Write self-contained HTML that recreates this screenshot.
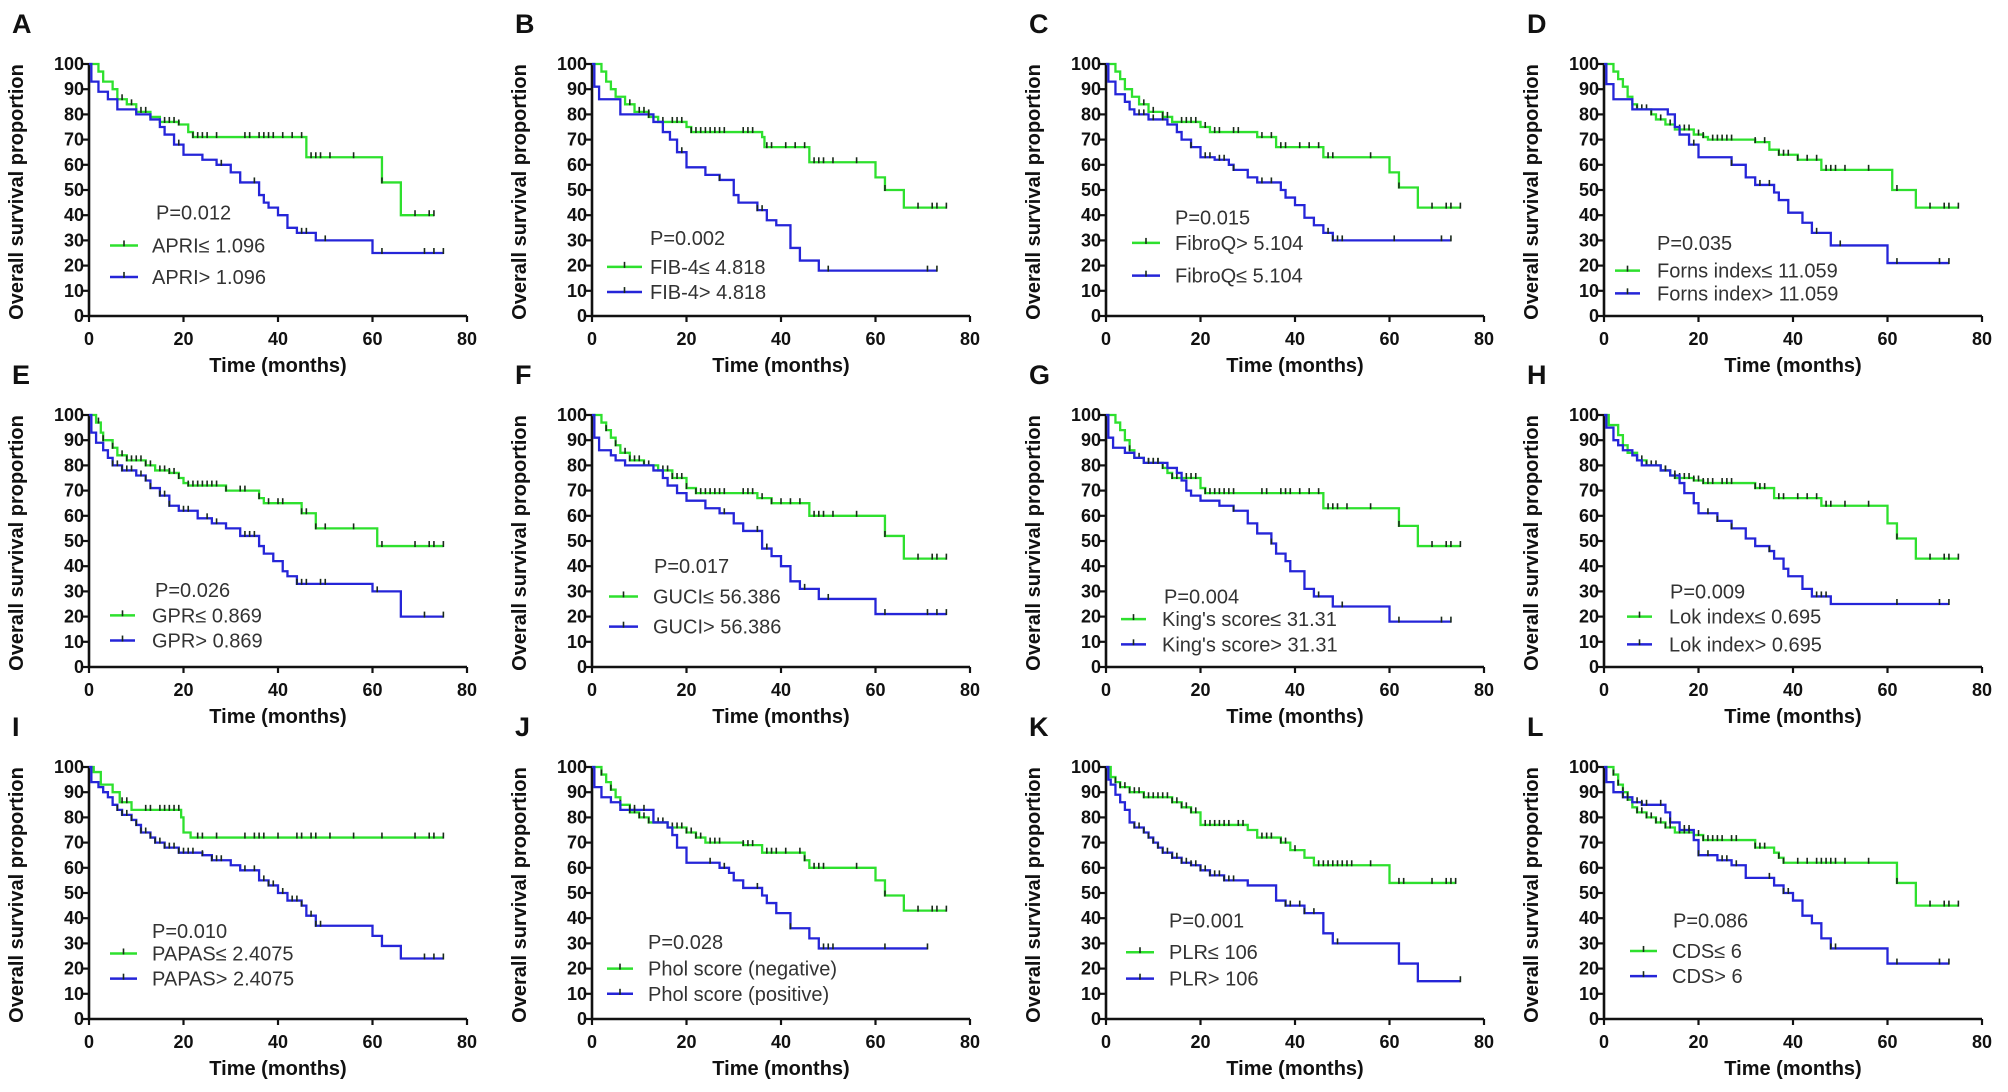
<!DOCTYPE html>
<html><head><meta charset="utf-8">
<style>
html,body{margin:0;padding:0;background:#fff;}
svg{display:block;}
text{font-family:"Liberation Sans",Arial,sans-serif;}
.tk{font-size:18px;font-weight:bold;fill:#111;}
.ttl{font-size:20px;font-weight:bold;fill:#111;}
.lg{font-size:20px;fill:#333;}
.let{font-size:27px;font-weight:bold;fill:#111;}
</style></head>
<body>
<svg id="fig" width="2008" height="1092" viewBox="0 0 2008 1092" xmlns="http://www.w3.org/2000/svg"></svg>
<script>
const panelLetters=["A","B","C","D","E","F","G","H","I","J","K","L"];
const pValues=["P=0.012","P=0.002","P=0.015","P=0.035","P=0.026","P=0.017","P=0.004","P=0.009","P=0.010","P=0.028","P=0.001","P=0.086"];
const greenLabels=["APRI\u2264 1.096","FIB-4\u2264 4.818","FibroQ> 5.104","Forns index\u2264 11.059","GPR\u2264 0.869","GUCI\u2264 56.386","King's score\u2264 31.31","Lok index\u2264 0.695","PAPAS\u2264 2.4075","Phol score (negative)","PLR\u2264 106","CDS\u2264 6"];
const blueLabels=["APRI> 1.096","FIB-4> 4.818","FibroQ\u2264 5.104","Forns index> 11.059","GPR> 0.869","GUCI> 56.386","King's score> 31.31","Lok index> 0.695","PAPAS> 2.4075","Phol score (positive)","PLR> 106","CDS> 6"];
const xTicks=[0,20,40,60,80];
const yTicks=[0,10,20,30,40,50,60,70,80,90,100];
const greenSteps=[
[2,97,3,93,5,90,6,86,8,84,10,81,13,79,15,77,19,76,21,73,22,71,46,63,62,53,66,40],
[2,97,3,93,4,90,5,87,7,84,9,81,12,79,14,77,20,75,21,73,36,71,36.5,67,46,61,60,55,62,50,66,43],
[2,97,3,94,4,90,5.5,87,7,84,9,81,12,79,14,77,20,75,22,73,32,71,36,67,46,63,60,57,62,51,66,43],
[2,97,3,94,4,91,5,87,6,84,7,82,10,80,11,78,13,76,15,74,19,72,21,71,22,70,32,69,35,66,37,64,41,62,46,58,61,50,66,43],
[1.5,97,2.5,93,3,90,5,87,6,84,8,82,12,80,14,78,17,77,19,75,20,73,21,72,29,70,36,67,37,65,45,61,48,55,61,48],
[2,97,3,94,4,91,5,88,6,85,8,82,11,80,14,78,17,75,20,71,22,69,35,67,38,65,46,60,62,52,66,43],
[2,97,3,94,4,90,5,86,6,83,8,81,12,79,13,77,14,75,20,71,21,69,46,63,62,56,66,48],
[1,96,3,92,4,88,5,85,7,82,9,80,12,78,14,76,15,75,19,74,21,73,32,71,36,67,46,64,60,57,62,51,66,43],
[1,98,2.5,93,5,90,6.5,86,9,83,19.5,80,20,74,21.5,72],
[2,97,3,94,4,91,5,88,6,85,8,82,10,80,12,78,16,76,20,74,22,72,24,70,32,69,36,66,45,63,46,60,60,55,62,49,66,43],
[1,96,2,94,3,92,5,90,8,88,14,86,16,84,18,82,20,77,30,75,32,72,37,70,39,67,42,64,44,61,60,54],
[2,97,3,93,4,90,5,87,6,84,7,82,9,80,11,78,13,76,15,74,19,73,21,71,32,68,36,66,37,64,38,62,62,54,66,45]];
const blueSteps=[
[0.5,93,2,89,4,86,6,82,10,80,13,78,15,75,16,72,18,68,20,64,24,62,27,60,30,57,32,53,36,48,37,45,38,43,40,40,42,35,44,33,48,30,60,25],
[0.5,91,1.5,86,6,80,13,77,15,73,16.5,70,18,65,20,59,24,56,27,54,30,48,31,45,35,42,37,38,39,36,42,27,44,22,48,18],
[0.5,93,2,88,4,85,5,82,6,80,9,78,13,76,15,73,16,70,18,67,20,63,23,62,26,60,27,58,30,55,32,53,37,50,38,47,40,44,42,39,44,36,46,33,48,30],
[0.5,92,2,86,6,82,13.5,80,15,75,16,72,18,68,20,63,27,60,30,55,32,52,36,49,37,46,39,41,42,37,44,33,48,28,60,21],
[0.5,93,1.5,89,3,86,4,83,5,80,7,78,10,76,12,74,13,71,15,68,17,64,19,62,23,59,26,57,29,55,32,52,36,48,37,45,39,42,41,38,42,36,44,33,60,30,66,20],
[0.5,91,1.5,86,4,84,5,82,7,80,13,78,15,75,16,72,18,69,20,66,24,63,27,61,30,57,32,54,36,47,38,44,40,40,42,34,44,31,48,27,60,21],
[0.5,91,1.5,87,4,85,6,83,8,81,13,79,15,77,16,74,17,70,18,68,20,66,24,64,27,62,30,57,32,53,35,49,36,45,38,42,39,38,42,31,44,28,48,24,60,18],
[0.5,95,2,90,3,88,4,86,6,84,7,82,8,80,12,78,14,76,16,73,17,69,19,65,20,61,24,58,27,55,30,51,32,48,35,46,36,43,38,39,39,36,42,31,44,28,48,25],
[0.5,94,2,92,3,90,4,88,5,85,6,83,7,81,9,79,10,77,11,74,13,72,14,70,16,68,19,66,24,65,26,63,30,61,32,59,36,55,38,53,40,50,42,47,45,45,46,41,48,37,60,33,62,29,66,24],
[0.5,92,2,88,4,86,6,83,13,78,16,76,17,73,18,68,20,62,27,60,29,58,30,55,32,52,36,49,37,46,39,42,42,36,46,32,48,28],
[0.5,95,1,93,2,89,3,86,4,83,5,78,6,76,8,74,9,72,10,70,11,68,12,66,14,64,16,62,18,61,20,59,22,57,25,55,30,53,36,47,38,45,42,42,46,34,48,30,62,22,66,15],
[0.5,94,2,90,4,88,6,86,8,85,13,82,14,78,16,75,19,71,20,65,24,63,27,61,30,56,36,53,38,50,40,47,42,41,44,38,46,32,48,28,60,22]];
const greenEnd=[73,75,75,75,75,75,75,75,75,75,74,75];
const blueEnd=[75,73,73,73,75,75,73,73,75,71,75,73];
const greenCensor=[
[7,9,11,12,16,17,18,19,22,23,24,25,27,33,34,36,37,38,39,41,43,45,47,48,49,51,56,62,69,72,73],
[8,10,11,12,15,17,18,19,21,22,23,24,25,26,27,28,32,33,34,37,38,41,43,45,47,48,49,51,56,62,69,72,73,75],
[8,10,12,13,16,17,18,19,21,23,24,27,28,33,35,37,38,41,43,45,47,48,56,62,69,72,73,75],
[6,7,8,9,10,12,14,16,17,18,20,21,23,24,25,26,27,32,34,37,38,39,41,43,45,47,48,49,51,56,62,69,72,73,75],
[2,3,5,7,8,9,10,11,12,13,15,16,17,18,19,21,22,23,24,25,26,27,29,32,33,36,38,40,41,45,46,48,50,56,62,69,72,73,75],
[3,5,7,8,9,10,11,12,15,16,17,18,19,20,22,23,24,25,26,27,28,32,33,34,36,38,40,42,44,47,48,49,51,56,62,69,72,73,75],
[5,6,7,8,9,10,11,12,14,15,16,17,18,19,21,22,23,24,25,26,27,33,34,37,38,39,41,43,45,47,48,49,51,56,62,69,72,73,75],
[7,8,9,10,11,12,13,15,16,17,18,19,20,21,22,23,25,26,27,32,33,34,37,38,41,43,45,47,48,51,56,62,69,72,73,75],
[7,8,12,13,15,16,17,18,19,23,24,27,33,35,36,37,40,44,45,47,48,51,56,62,69,72,73,75],
[2,4,6,8,9,10,11,12,14,15,16,17,18,19,20,21,22,23,25,26,27,32,33,34,37,38,39,41,44,45,47,48,49,56,62,69,72,73,75],
[2,3,4,5,6,7,8,9,10,11,12,13,14,15,16,17,18,19,21,22,23,24,25,26,28,29,33,34,35,37,38,40,45,46,47,48,49,50,51,52,56,62,63,69,72,73,74],
[2,3,4,5,7,8,9,10,11,12,13,14,16,17,18,19,20,21,22,23,24,25,27,28,32,33,34,37,38,41,43,45,46,47,48,49,51,56,62,69,72,73,75]];
const blueCensor=[
[19,28,35,45,46,50,62,71,73,75],
[12,19,27,35,36,50,71,73],
[7,8,10,12,18,21,22,24,25,27,33,35,47,48,49,50,61,71,73],
[19,27,33,35,45,50,62,71,73],
[5,6,7,8,9,11,12,13,15,16,17,20,21,25,27,33,34,35,44,45,46,49,50,61,71,75],
[28,35,37,45,50,62,71,73,75],
[9,10,11,27,35,45,50,62,71,73],
[13,15,22,24,27,35,45,46,47,62,71,73],
[6,7,8,9,10,11,12,13,14,15,16,17,18,19,20,21,22,24,26,27,28,33,35,37,38,39,41,43,44,45,47,48,49,71,73,75],
[8,9,11,25,28,35,42,49,50,51,62,71],
[6,7,8,9,10,11,12,13,14,15,16,17,18,19,20,21,22,23,24,25,26,27,38,39,41,42,44,49,75],
[4,5,7,8,9,12,14,17,18,20,22,25,26,28,35,38,39,48,49,62,71,73]];

/* layout (pixels / value positions for text placement, not data) */
const colX=[89,592,1106,1604], rowY=[64,415,767], PW=378, PH=252;
const legendLayout=[
 {px:67,py:41,e1:28,e2:15.5,l1:21,l2:49,tx:63},
 {px:58,py:31,e1:19.5,e2:9.5,l1:15,l2:50,tx:58},
 {px:69,py:39,e1:29,e2:16,l1:26,l2:54,tx:69},
 {px:53,py:29,e1:18,e2:9,l1:11,l2:36,tx:53},
 {px:66,py:30.5,e1:20.5,e2:10.5,l1:21,l2:46,tx:63},
 {px:62,py:40,e1:28,e2:16,l1:17,l2:46,tx:61},
 {px:58,py:28,e1:19,e2:9,l1:15,l2:40,tx:56},
 {px:66,py:30,e1:20,e2:9,l1:23,l2:48,tx:65},
 {px:63,py:35,e1:26,e2:16,l1:21,l2:48,tx:63},
 {px:56,py:30.5,e1:20,e2:10,l1:15,l2:41,tx:56},
 {px:63,py:39,e1:26.5,e2:16,l1:20,l2:48,tx:63},
 {px:69,py:39,e1:27,e2:17,l1:26,l2:53,tx:68}];
const GREEN="#2ee02e", BLUE="#2525d8";
const NS="http://www.w3.org/2000/svg";
const fig=document.getElementById('fig');
function mk(tag,attrs,parent){const e=document.createElementNS(NS,tag);for(const k in attrs)e.setAttribute(k,attrs[k]);parent.appendChild(e);return e;}
function valAt(steps,t){let s=100;for(let i=0;i<steps.length;i+=2){if(steps[i]<=t)s=steps[i+1];}return s;}

panelLetters.forEach((L,i)=>{
  const x0=colX[i%4], y100=rowY[Math.floor(i/4)], y0=y100+PH;
  const xs=t=>x0+t/80*PW, ys=v=>y0-v/100*PH;
  const g=mk('g',{},fig);
  
  
  const lt=mk('text',{x:x0-77,y:y100-31,class:'let'},g);lt.textContent=L;
  
  
  const ax=mk('path',{d:`M${x0},${y100-1}V${y0}H${x0+PW}`,stroke:'#111','stroke-width':2.6,fill:'none'},g);
  
  
  yTicks.forEach(v=>{
    mk('line',{x1:x0-6,x2:x0,y1:ys(v),y2:ys(v),stroke:'#111','stroke-width':2.2},g);
    const t=mk('text',{x:x0-5,y:ys(v)+6,class:'tk','text-anchor':'end'},g);t.textContent=v;
    
    
  });
  xTicks.forEach(v=>{
    mk('line',{x1:xs(v),x2:xs(v),y1:y0,y2:y0+6,stroke:'#111','stroke-width':2.2},g);
    const t=mk('text',{x:xs(v),y:y0+29,class:'tk','text-anchor':'middle'},g);t.textContent=v;
    
    
  });
  const xt=mk('text',{x:x0+PW/2,y:y0+56,class:'ttl','text-anchor':'middle'},g);xt.textContent='Time (months)';
  
  
  const cy=y100+PH/2+2, cx=x0-66;
  const yt=mk('text',{x:cx,y:cy,class:'ttl','text-anchor':'middle',transform:`rotate(-90 ${cx} ${cy})`},g);yt.textContent='Overall survival proportion';
  
  
  [[greenSteps[i],greenEnd[i],greenCensor[i],GREEN,'green'],[blueSteps[i],blueEnd[i],blueCensor[i],BLUE,'blue']].forEach(([st,end,cen,col,nm])=>{
    let d=`M${xs(0)},${ys(100)}`;
    for(let k=0;k<st.length;k+=2){d+=`H${xs(st[k])}V${ys(st[k+1])}`;}
    d+=`H${xs(end)}`;
    const p=mk('path',{d:d,stroke:col,'stroke-width':2.3,fill:'none'},g);
    
    
    cen.forEach(t=>{
      const v=valAt(st,t);
      const c=mk('line',{x1:xs(t),x2:xs(t),y1:ys(v)-5,y2:ys(v)+1,stroke:'#1a2a1a','stroke-width':1.6},g);
      
      
    });
  });
  const lo=legendLayout[i];
  const pt=mk('text',{x:x0+lo.px,y:ys(lo.py)+7,class:'lg'},g);pt.textContent=pValues[i];
  
  
  [[lo.e1,GREEN,greenLabels[i],'green'],[lo.e2,BLUE,blueLabels[i],'blue']].forEach(([ev,col,lab,nm])=>{
    const yy=ys(ev);
    const lg=mk('g',{},g);
    
    
    mk('line',{x1:x0+lo.l1,x2:x0+lo.l2,y1:yy,y2:yy,stroke:col,'stroke-width':2.5},lg);
    const m=(lo.l1+lo.l2)/2;
    mk('line',{x1:x0+m,x2:x0+m,y1:yy-5,y2:yy+1,stroke:'#1a2a1a','stroke-width':1.6},lg);
    const tt=mk('text',{x:x0+lo.tx,y:yy+7,class:'lg'},lg);tt.textContent=lab;
  });
});
</script>
</body></html>
